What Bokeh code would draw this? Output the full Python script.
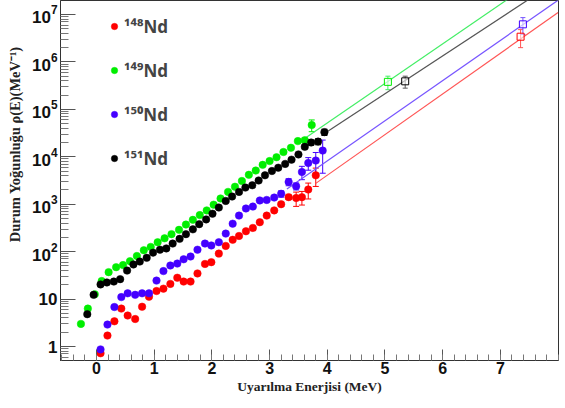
import math
from bokeh.plotting import figure
from bokeh.models import (ColumnDataSource, FixedTicker, LogTickFormatter, Range1d,
                          Whisker, TeeHead, Legend, LegendItem)
from bokeh.embed import file_html
from bokeh.resources import INLINE

# ---------------- data ----------------
series_names = ["¹⁴⁸Nd", "¹⁴⁹Nd", "¹⁵⁰Nd", "¹⁵¹Nd"]
series_colors = ["#ff0000", "#00ee00", "#4400ff", "#000000"]
line_colors = ["#ff5555", "#44ee66", "#7755ff", "#555555"]

e148 = [0.07, 0.19, 0.31, 0.43, 0.54, 0.67, 0.79, 0.91, 1.04, 1.16, 1.28, 1.40, 1.51, 1.63,
        1.75, 1.88, 1.99, 2.12, 2.24, 2.36, 2.47, 2.59, 2.71, 2.83, 2.95, 3.08, 3.20, 3.33,
        3.46, 3.56, 3.67, 3.80]
rho148 = [0.72, 1.7, 3.4, 6.3, 4.5, 3.8, 6.9, 11.2, 14.8, 16.6, 20.9, 28.2, 23.4, 23.4,
          34.7, 55, 60, 91, 132, 178, 214, 269, 316, 417, 575, 741, 1000, 1410,
          1350, 1410, 2040, 4070]
err148 = [0] * 26 + [100, 150, 450, 450, 750, 1700]

e149 = [-0.27, -0.15, -0.03, 0.09, 0.21, 0.34, 0.46, 0.58, 0.70, 0.82, 0.94, 1.06, 1.18, 1.30,
        1.43, 1.55, 1.67, 1.79, 1.91, 2.03, 2.15, 2.28, 2.40, 2.52, 2.64, 2.76, 2.88, 3.00,
        3.12, 3.24, 3.37, 3.49, 3.61, 3.73]
rho149 = [3.0, 6.3, 12.6, 24, 37, 47, 52, 63, 81, 107, 126, 158, 191, 234,
          288, 372, 468, 589, 741, 977, 1320, 1820, 2340, 3090, 4170, 5130, 6760, 8130,
          9770, 12600, 15500, 21400, 22400, 46800]
err149 = [0] * 30 + [1200, 2000, 2500, 13000]

e150 = [0.07, 0.19, 0.31, 0.43, 0.54, 0.67, 0.79, 0.91, 1.04, 1.16, 1.28, 1.40, 1.51, 1.63,
        1.75, 1.88, 1.99, 2.12, 2.24, 2.36, 2.47, 2.59, 2.71, 2.83, 2.95, 3.08, 3.20, 3.33,
        3.46, 3.56, 3.67, 3.80, 3.92]
rho150 = [0.87, 2.9, 6.8, 11.0, 13.2, 12.3, 13.2, 13.2, 24.5, 38.9, 51, 56, 69, 79,
          110, 148, 135, 158, 240, 389, 575, 813, 891, 1200, 1230, 1380, 1660, 2950,
          2400, 4790, 7410, 8320, 13500]
err150 = [0] * 26 + [250, 500, 400, 1500, 2200, 4000, 9000]

e151 = [-0.16, -0.05, 0.07, 0.18, 0.30, 0.41, 0.53, 0.64, 0.75, 0.87, 0.98, 1.10, 1.21, 1.32,
        1.44, 1.55, 1.67, 1.78, 1.90, 2.01, 2.12, 2.24, 2.35, 2.47, 2.58, 2.70, 2.81, 2.92,
        3.04, 3.15, 3.27, 3.38, 3.50, 3.61, 3.72, 3.84, 3.95]
rho151 = [4.8, 12.3, 20.4, 22.4, 23.4, 26.3, 39.8, 53.7, 61.7, 74, 95, 110, 117, 148,
          186, 234, 295, 380, 479, 631, 851, 1170, 1450, 1820, 2240, 2510, 3160, 4070,
          5010, 5890, 7080, 8710, 11200, 16200, 20000, 20900, 33100]
err151 = [0] * 33 + [1500, 2500, 3000, 5000]

# level density at the neutron separation energy (open squares)
sn_e = [7.35, 5.05, 7.39, 5.35]
sn_rho = [3.4e6, 3.8e5, 6.2e6, 3.9e5]
sn_err = [1.4e6, 1.2e5, 2.4e6, 1.1e5]

# constant-temperature fit lines: start/end energy and density
fit_e0 = [3.80, 3.62, 3.30, 3.93]
fit_rho0 = [2.75e3, 2.5e4, 2.1e3, 3.0e4]
fit_e1 = [8.0, 8.0, 8.0, 8.0]
fit_rho1 = [1.1e7, 1.12e8, 2.0e7, 5.3e7]

x_ticks = [0, 1, 2, 3, 4, 5, 6, 7]
y_ticks = [1, 10, 1e2, 1e3, 1e4, 1e5, 1e6, 1e7]

energies = [e148, e149, e150, e151]
densities = [rho148, rho149, rho150, rho151]
errors = [err148, err149, err150, err151]

# ---------------- figure ----------------
p = figure(frame_width=498, frame_height=360, y_axis_type="log",
           x_range=Range1d(-0.624, 8.007), y_range=Range1d(10 ** -0.295, 10 ** 7.295),
           output_backend="svg", toolbar_location=None,
           min_border_left=60, min_border_right=1, min_border_top=0, min_border_bottom=36,
           background_fill_color="white", border_fill_color="white")
p.xgrid.visible = False
p.ygrid.visible = False
p.outline_line_color = "#333333"
p.outline_line_width = 1

# x axis
p.xaxis.ticker = FixedTicker(ticks=x_ticks,
                             minor_ticks=[round(-0.6 + 0.2 * i, 2) for i in range(44)])
p.xaxis.major_tick_in = 11
p.xaxis.major_tick_out = 0
p.xaxis.minor_tick_in = 6
p.xaxis.minor_tick_out = 0
p.xaxis.major_label_text_font = "Liberation Sans"
p.xaxis.major_label_text_font_style = "bold"
p.xaxis.major_label_text_font_size = "16px"
p.xaxis.major_label_standoff = 1
p.xaxis.axis_label = "Uyarılma Enerjisi (MeV)"
p.xaxis.axis_label_text_font = "Liberation Serif"
p.xaxis.axis_label_text_font_style = "bold"
p.xaxis.axis_label_text_font_size = "13.5px"
p.xaxis.axis_label_standoff = 2

# y axis
minor_y = [m * 10 ** d for d in range(-1, 8) for m in range(2, 10)]
p.yaxis.ticker = FixedTicker(ticks=y_ticks, minor_ticks=minor_y)
p.yaxis.formatter = LogTickFormatter(min_exponent=2)
p.yaxis.major_tick_in = 15
p.yaxis.major_tick_out = 0
p.yaxis.minor_tick_in = 8
p.yaxis.minor_tick_out = 0
p.yaxis.major_label_text_font = "Liberation Sans"
p.yaxis.major_label_text_font_style = "bold"
p.yaxis.major_label_text_font_size = "17px"
p.yaxis.major_label_standoff = 3
p.yaxis.axis_label = "\u2003" * 5 + "Durum Yoğunluğu ρ(E)(MeV⁻¹)"
p.yaxis.axis_label_text_font = "Liberation Serif"
p.yaxis.axis_label_text_font_style = "bold"
p.yaxis.axis_label_text_font_size = "14.5px"
p.yaxis.axis_label_standoff = 6
for ax in (p.xaxis, p.yaxis):
    ax.axis_line_color = "#333333"
    ax.major_tick_line_color = "#555555"
    ax.minor_tick_line_color = "#777777"
    ax.axis_label_text_color = "#222222"
    ax.major_label_text_color = "#111111"

# fit lines
for i in range(4):
    p.line([fit_e0[i], fit_e1[i]], [fit_rho0[i], fit_rho1[i]],
           line_color=line_colors[i], line_width=1.2)

# data points with error bars
dot_renderers = []
for i in range(4):
    src = ColumnDataSource(dict(e=energies[i], rho=densities[i]))
    r = p.scatter("e", "rho", source=src, size=7.5, marker="circle",
                  fill_color=series_colors[i], line_color=series_colors[i], line_width=0.5)
    dot_renderers.append(r)
    be, up, lo = [], [], []
    for e, v, s in zip(energies[i], densities[i], errors[i]):
        if s > 0:
            be.append(e); up.append(v + s); lo.append(v - s)
    wsrc = ColumnDataSource(dict(base=be, upper=up, lower=lo))
    p.add_layout(Whisker(source=wsrc, base="base", upper="upper", lower="lower",
                         line_color=series_colors[i], line_width=1,
                         upper_head=TeeHead(size=6, line_color=series_colors[i]),
                         lower_head=TeeHead(size=6, line_color=series_colors[i])))

# values at the neutron separation energy
for i in range(4):
    ssrc = ColumnDataSource(dict(e=[sn_e[i]], rho=[sn_rho[i]],
                                 up=[sn_rho[i] + sn_err[i]], lo=[sn_rho[i] - sn_err[i]]))
    p.add_layout(Whisker(source=ssrc, base="e", upper="up", lower="lo",
                         line_color=line_colors[i], line_width=1,
                         upper_head=TeeHead(size=5, line_color=line_colors[i]),
                         lower_head=TeeHead(size=5, line_color=line_colors[i])))
    p.scatter("e", "rho", source=ssrc, marker="square", size=7, fill_color="white",
              fill_alpha=0.6, line_color=series_colors[i], line_width=1)

# legend
legend = Legend(items=[LegendItem(label=series_names[i], renderers=[dot_renderers[i]])
                       for i in range(4)],
                location=(46, 190), orientation="vertical",
                glyph_width=16, glyph_height=24, label_height=24, spacing=20,
                label_standoff=2, padding=0, margin=0,
                border_line_alpha=0, background_fill_alpha=0,
                label_text_font="Noto Sans", label_text_font_style="bold",
                label_text_font_size="17px")
p.add_layout(legend)

open("out.html", "w").write(file_html(p, INLINE))
